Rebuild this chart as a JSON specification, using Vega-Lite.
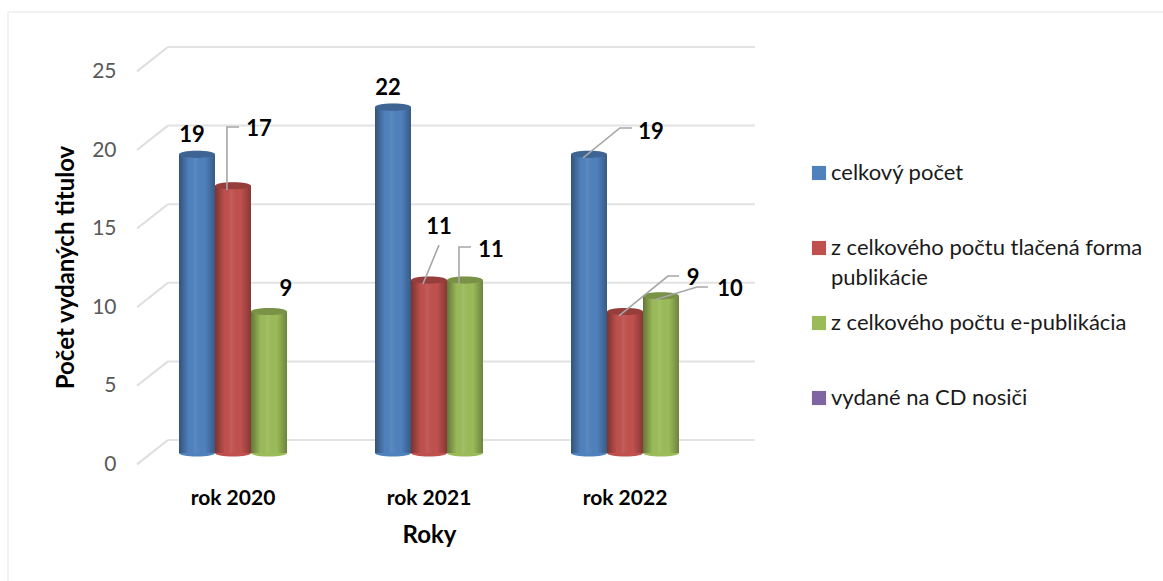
{
"$schema":"https://vega.github.io/schema/vega-lite/v6.json",
"autosize":"none",
"padding":{"left":168,"top":47,"right":408,"bottom":141},
"width":587,"height":393,
"background":"white",
"config":{"font":"Lato","view":{"stroke":null},"style":{"guide-label":{"lineHeight":30}}},
"datasets":{
"hodnoty":[
{"rok":"rok 2020","rad":"celkový počet","pocet":19},
{"rok":"rok 2020","rad":"z celkového počtu tlačená forma publikácie","pocet":17},
{"rok":"rok 2020","rad":"z celkového počtu e-publikácia","pocet":9},
{"rok":"rok 2021","rad":"celkový počet","pocet":22},
{"rok":"rok 2021","rad":"z celkového počtu tlačená forma publikácie","pocet":11},
{"rok":"rok 2021","rad":"z celkového počtu e-publikácia","pocet":11},
{"rok":"rok 2022","rad":"celkový počet","pocet":19},
{"rok":"rok 2022","rad":"z celkového počtu tlačená forma publikácie","pocet":9},
{"rok":"rok 2022","rad":"z celkového počtu e-publikácia","pocet":10}
],
"popisy":[
{"k":0.291,"v":19.47,"t":"19"},{"k":0.633,"v":19.85,"t":"17"},{"k":0.770,"v":9.67,"t":"9"},
{"k":1.291,"v":22.45,"t":"22"},{"k":1.551,"v":13.61,"t":"11"},{"k":1.816,"v":12.15,"t":"11"},
{"k":2.633,"v":19.66,"t":"19"},{"k":2.847,"v":10.37,"t":"9"},{"k":3.036,"v":9.67,"t":"10"}
],
"vodiace":[
{"id":"a","p":1,"k":0.469,"v":15.90},{"id":"a","p":2,"k":0.469,"v":19.91},{"id":"a","p":3,"k":0.531,"v":19.91},
{"id":"b","p":1,"k":1.469,"v":9.92},{"id":"b","p":2,"k":1.551,"v":12.40},
{"id":"c","p":1,"k":1.653,"v":9.92},{"id":"c","p":2,"k":1.653,"v":12.28},{"id":"c","p":3,"k":1.714,"v":12.28},
{"id":"d","p":1,"k":2.286,"v":17.94},{"id":"d","p":2,"k":2.474,"v":19.85},{"id":"d","p":3,"k":2.536,"v":19.85},
{"id":"e","p":1,"k":2.469,"v":7.89},{"id":"e","p":2,"k":2.719,"v":10.43},{"id":"e","p":3,"k":2.776,"v":10.43},
{"id":"f","p":1,"k":2.648,"v":8.91},{"id":"f","p":2,"k":2.867,"v":9.73},{"id":"f","p":3,"k":2.923,"v":9.73}
],
"mriezka":[
{"t":0,"k0":3.163,"k1":0.168,"k2":0.0102,"v2":-1.55},{"t":5,"k0":3.163,"k1":0.168,"k2":0.0102,"v2":3.45},{"t":10,"k0":3.163,"k1":0.168,"k2":0.0102,"v2":8.45},
{"t":15,"k0":3.163,"k1":0.168,"k2":0.0102,"v2":13.45},{"t":20,"k0":3.163,"k1":0.168,"k2":0.0102,"v2":18.45},{"t":25,"k0":3.163,"k1":0.168,"k2":0.0102,"v2":23.45}
],
"ram":[
{"k1":-0.648,"k2":5.245,"v1":27.23,"v2":27.23},
{"k1":-0.648,"k2":-0.648,"v1":27.23,"v2":-8.97}
]
},
"resolve":{"scale":{"x":"independent"}},
"layer":[
{
"layer":[
{"data":{"name":"ram"},"mark":{"type":"rule","color":"#f2f2f2","strokeWidth":2,"clip":false},
"encoding":{"x":{"field":"k1","type":"quantitative","axis":null,"scale":{"domain":[0,3],"range":[-33,555],"nice":false,"zero":false}},"x2":{"field":"k2"},"y":{"field":"v1","type":"quantitative"},"y2":{"field":"v2"}}},
{"data":{"name":"mriezka"},"mark":{"type":"rule","color":"#e2e2e2","strokeWidth":2},
"encoding":{"x":{"field":"k1","type":"quantitative"},"x2":{"field":"k0"},"y":{"field":"t","type":"quantitative"}}},
{"data":{"name":"mriezka"},"mark":{"type":"rule","color":"#dedede","strokeWidth":2},
"encoding":{"x":{"field":"k1","type":"quantitative"},"x2":{"field":"k2"},"y":{"field":"t","type":"quantitative"},"y2":{"field":"v2"}}}
]
},
{
"data":{"name":"hodnoty"},
"encoding":{
"x":{"field":"rok","type":"nominal","title":"Roky",
"scale":{"range":[-33,555],"paddingInner":0.449,"paddingOuter":0.2245},
"axis":{"orient":"bottom","domain":false,"ticks":false,"labelAngle":0,"labelFontSize":21,"labelFontWeight":"bold","labelColor":"#000000","labelPadding":47,"titleFontSize":24,"titleFontWeight":"bold","titleColor":"#000000","titlePadding":15}},
"xOffset":{"field":"rad","type":"nominal","scale":{"domain":["celkový počet","z celkového počtu tlačená forma publikácie","z celkového počtu e-publikácia"],"paddingInner":0,"paddingOuter":0}},
"y":{"field":"pocet","type":"quantitative","title":"Počet vydaných titulov",
"scale":{"domain":[0,25],"nice":false},
"axis":{"values":[0,5,10,15,20,25],"domain":false,"ticks":false,"grid":false,"labelFontSize":21,"labelColor":"#595959","labelPadding":52,"labelOffset":24.5,"titleFontSize":24,"titleFontWeight":"bold","titleColor":"#000000","titleX":-90,"titleY":220}}
},
"layer":[
{"mark":{"type":"bar","yOffset":13,"y2Offset":13},
"encoding":{"color":{"field":"rad","type":"nominal","title":null,
"scale":{"domain":["celkový počet","z celkového počtu tlačená forma publikácie","z celkového počtu e-publikácia","vydané na CD nosiči"],"range":["#4f81bd","#c0504d","#9bbb59","#8064a2"]},
"legend":{"orient":"none","legendX":640,"legendY":115,"symbolType":"square","symbolSize":200,"symbolOpacity":1,"symbolStrokeWidth":0,"labelFontSize":22,"labelColor":"#1a1a1a","labelLimit":400,"labelOffset":1,"gridAlign":"all","rowPadding":23,
"labelExpr":"datum.label=='z celkového počtu tlačená forma publikácie'?['z celkového počtu tlačená forma','publikácie']:datum.label"}}}},
{"mark":{"type":"point","filled":true,"opacity":1,"size":1296,"yOffset":13,"shape":"M-1 0A1 .2 0 0 0 1 0Z"},
"encoding":{"y":{"datum":0,"type":"quantitative"},"color":{"field":"rad","type":"nominal","legend":null}}},
{"mark":{"type":"bar","yOffset":13,"y2Offset":13,"color":{"x1":0,"x2":1,"y1":0,"y2":0,"gradient":"linear","stops":[{"offset":0,"color":"rgba(0,0,0,0.36)"},{"offset":0.28,"color":"rgba(0,0,0,0)"},{"offset":0.45,"color":"rgba(255,255,255,0.07)"},{"offset":0.72,"color":"rgba(0,0,0,0)"},{"offset":1,"color":"rgba(0,0,0,0.3)"}]}}},
{"mark":{"type":"point","filled":true,"opacity":1,"size":1296,"yOffset":13,"shape":"M-1 0A1 .2 0 1 1 1 0A1 .2 0 1 1 -1 0Z"},
"encoding":{"color":{"field":"rad","type":"nominal","legend":null}}},
{"mark":{"type":"point","filled":true,"opacity":0.22,"color":"#000000","size":1296,"yOffset":13,"shape":"M-1 0A1 .2 0 1 1 1 0A1 .2 0 1 1 -1 0Z"}}
]
},
{
"layer":[
{"data":{"name":"vodiace"},"mark":{"type":"line","color":"#a6a6a6","strokeWidth":1.6},
"encoding":{"x":{"field":"k","type":"quantitative","axis":null,"scale":{"domain":[0,3],"range":[-33,555],"nice":false,"zero":false}},"y":{"field":"v","type":"quantitative"},"detail":{"field":"id"},"order":{"field":"p"}}},
{"data":{"name":"popisy"},"mark":{"type":"text","fontSize":22,"fontWeight":"bold","color":"#000000","baseline":"middle","align":"center","dy":1},
"encoding":{"x":{"field":"k","type":"quantitative"},"y":{"field":"v","type":"quantitative"},"text":{"field":"t"}}}
]
}
]
}
